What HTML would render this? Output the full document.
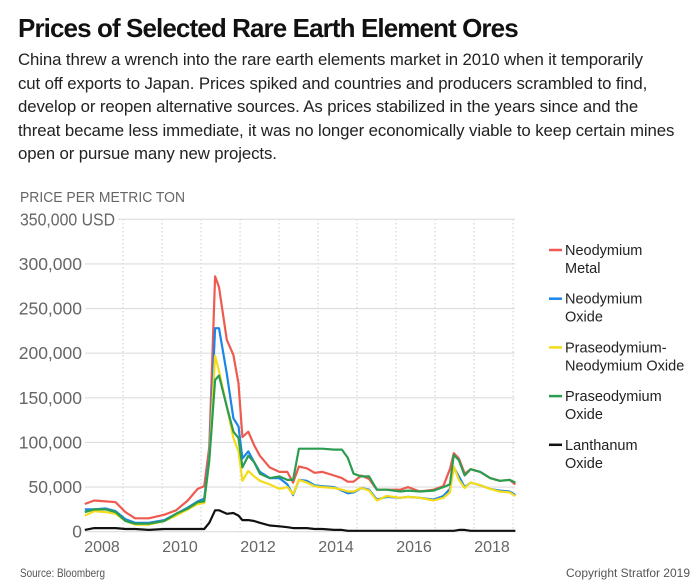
<!DOCTYPE html>
<html><head><meta charset="utf-8">
<style>
body{margin:0;background:#fff;}
#wrap{position:relative;width:700px;height:585px;overflow:hidden;font-family:"Liberation Sans",sans-serif;}
h1{position:absolute;left:18px;top:13px;margin:0;font-size:26px;font-weight:bold;color:#111;letter-spacing:-0.9px;white-space:nowrap;}
#desc{position:absolute;left:18px;top:48px;margin:0;font-size:16.8px;line-height:23.6px;color:#222;white-space:nowrap;letter-spacing:-0.1px;}
</style></head><body>
<div id="wrap">
<h1>Prices of Selected Rare Earth Element Ores</h1>
<p id="desc">China threw a wrench into the rare earth elements market in 2010 when it temporarily<br>cut off exports to Japan. Prices spiked and countries and producers scrambled to find,<br>develop or reopen alternative sources. As prices stabilized in the years since and the<br>threat became less immediate, it was no longer economically viable to keep certain mines<br>open or pursue many new projects.</p>
<svg id="svg" width="700" height="585" style="position:absolute;left:0;top:0"></svg>
</div>
<script>
const times=[2007.56,2007.8,2008.1,2008.35,2008.6,2008.85,2009.2,2009.6,2009.9,2010.2,2010.45,2010.62,2010.75,2010.9,2011.0,2011.2,2011.37,2011.5,2011.6,2011.75,2011.9,2012.05,2012.3,2012.55,2012.75,2012.9,2013.05,2013.25,2013.45,2013.65,2013.95,2014.15,2014.3,2014.45,2014.65,2014.85,2015.05,2015.3,2015.65,2015.85,2016.15,2016.5,2016.75,2016.92,2017.02,2017.15,2017.3,2017.45,2017.7,2017.95,2018.2,2018.45,2018.6];
const ndMetal=[31,35,34,33,22,15,15,19,24,35,48,51,95,286,274,215,198,166,106,112,97,85,72,67,67,55,73,71,66,67,63,60,56,56,63,59,47,47,47,50,45,47,51,70,88,82,65,70,67,60,57,58,53];
const ndOxide=[25,25,26,23,14,10,10,13,20,27,34,37,85,228,228,177,127,118,82,90,78,67,60,60,53,41,58,57,52,51,50,46,43,44,49,47,36,39,38,39,38,36,40,48,72,62,50,55,52,48,46,45,41];
const prNdOxide=[18,23,22,20,12,8,8,12,18,25,31,32,80,197,180,140,105,90,57,68,62,57,53,48,50,42,58,55,51,50,49,47,45,45,49,46,35,40,38,39,38,35,38,44,73,58,49,55,52,48,45,44,40];
const prOxide=[22,25,25,22,12,9,9,12,20,26,33,34,80,170,175,140,112,105,72,85,78,65,60,62,58,58,93,93,93,93,92,92,83,65,62,62,47,47,45,46,45,46,50,53,86,80,63,70,67,60,57,58,55];
const laOxide=[2,4,4,4,3,3,2,3,3,3,3,3,10,24,24,20,21,18,13,13,12,10,7,6,5,4,4,4,3,3,2,2,1,1,1,1,1,1,1,1,1,1,1,1,1,2,2,1,1,1,1,1,1];
const yTicks=[0,50,100,150,200,250,300,350];
const yTickLabels=["0","50,000","100,000","150,000","200,000","250,000","300,000","350,000 USD"];
const xTicks=[2008,2010,2012,2014,2016,2018];
const xGrid=[2008.54,2009.54,2010.54,2011.54,2012.54,2013.54,2014.54,2015.54,2016.54,2017.54,2018.54];
const seriesNames=["Neodymium|Metal","Neodymium|Oxide","Praseodymium-|Neodymium Oxide","Praseodymium|Oxide","Lanthanum|Oxide"];
const seriesData=[ndMetal,ndOxide,prNdOxide,prOxide,laOxide];
const colors=["#ef5a50","#1a86e8","#f5dc1a","#2a9d50","#111"];
const keys=["neodymium-metal","neodymium-oxide","praseodymium-neodymium-oxide","praseodymium-oxide","lanthanum-oxide"];

const svg=document.getElementById('svg');const NS="http://www.w3.org/2000/svg";
const x=t=>102+(t-2008)*39;
const y=v=>531.7-v*312.4/350;
function mk(tag,attrs,parent){const e=document.createElementNS(NS,tag);for(const k in attrs)e.setAttribute(k,attrs[k]);(parent||svg).appendChild(e);return e;}
const F='"Liberation Sans",sans-serif';
let t=mk('text',{x:20,y:202,'font-size':15,fill:'#666','font-family':F,textLength:165,lengthAdjust:'spacingAndGlyphs'});t.textContent="PRICE PER METRIC TON";


xGrid.forEach(g=>{const l=mk('line',{x1:x(g),x2:x(g),y1:219,y2:532,stroke:'#ccc','stroke-dasharray':'1.5,2.5'});

});
yTicks.forEach((v,i)=>{const l=mk('line',{x1:i==7?118:85,x2:515,y1:y(v),y2:y(v),stroke:'#ddd','stroke-width':1.2});


const a={x:i==7?20:82,y:y(v)+6,'text-anchor':i==7?'start':'end','font-size':17.5,fill:'#666','font-family':F};
if(i==7){a.textLength=95;a.lengthAdjust='spacingAndGlyphs';}
const tx=mk('text',a);tx.textContent=yTickLabels[i];

});
xTicks.forEach(v=>{const tx=mk('text',{x:x(v),y:552,'text-anchor':'middle','font-size':16,fill:'#666','font-family':F});tx.textContent=v;

});
seriesData.forEach((d,i)=>{const p=mk('polyline',{points:d.map((v,j)=>x(times[j]).toFixed(1)+','+y(v).toFixed(1)).join(' '),fill:'none',stroke:colors[i],'stroke-width':2.2,'stroke-linejoin':'round'});

});
seriesNames.forEach((n,i)=>{const g=mk('g',{});


const yy=250+i*48.7;mk('line',{x1:549,x2:562,y1:yy,y2:yy,stroke:colors[i],'stroke-width':2.5},g);
n.split('|').forEach((s,k)=>{const tx=mk('text',{x:565,y:yy+5+k*18,'font-size':14.5,fill:'#222','font-family':F},g);tx.textContent=s;});});
t=mk('text',{x:20,y:577,'font-size':12,fill:'#555','font-family':F,textLength:85,lengthAdjust:'spacingAndGlyphs'});t.textContent="Source: Bloomberg";


t=mk('text',{x:566,y:577,'font-size':12,fill:'#555','font-family':F,textLength:124,lengthAdjust:'spacingAndGlyphs'});t.textContent="Copyright Stratfor 2019";


</script>
</body></html>
